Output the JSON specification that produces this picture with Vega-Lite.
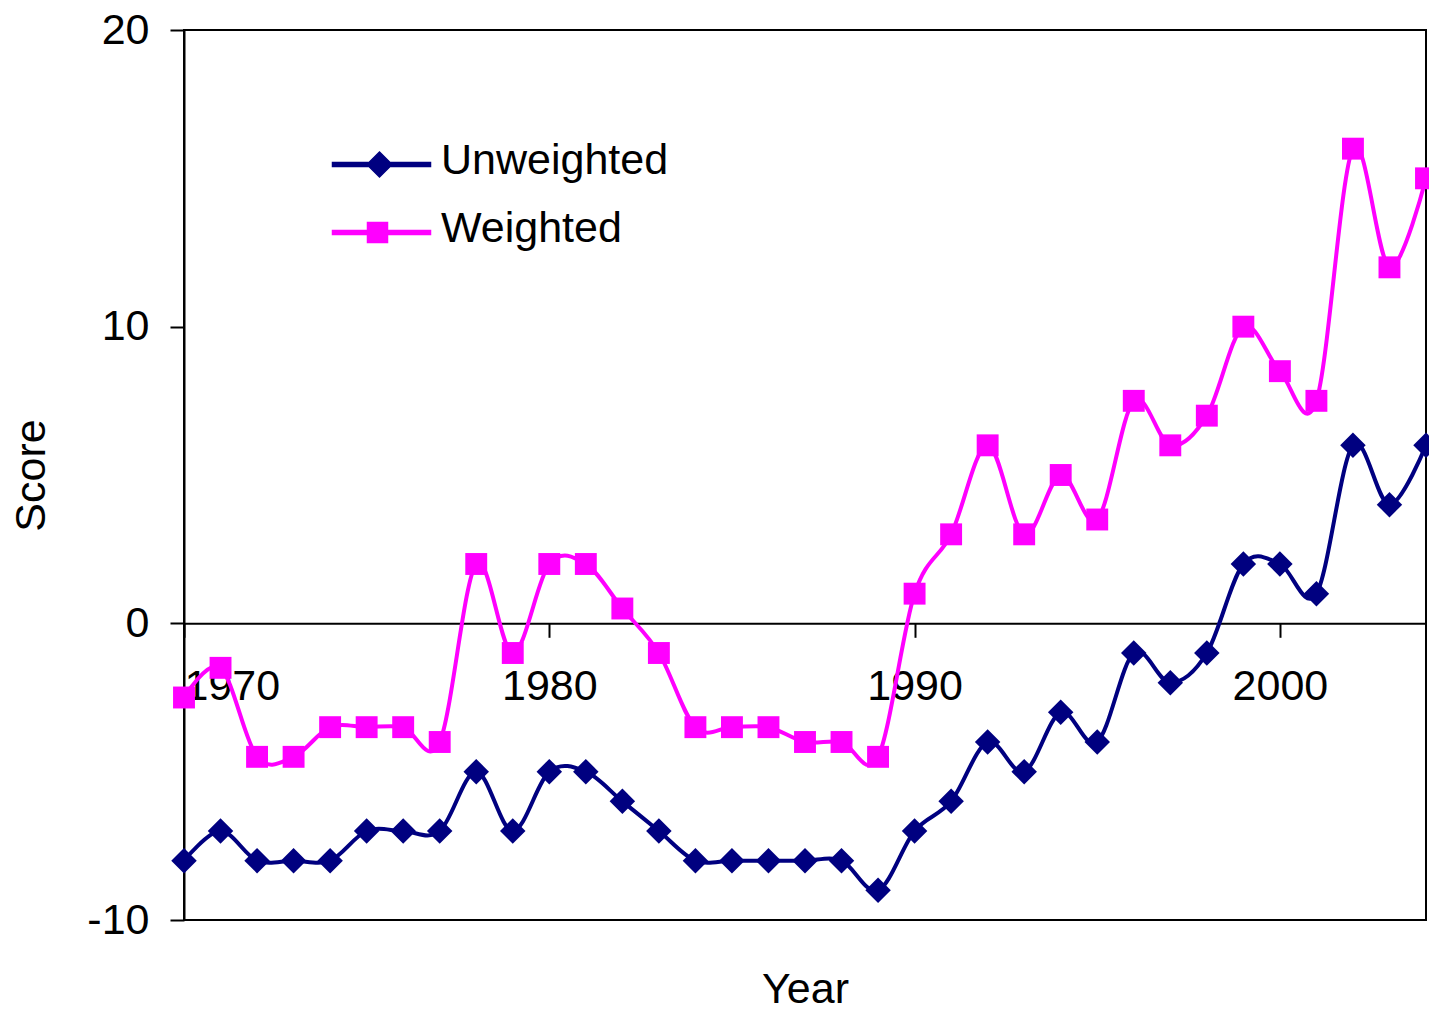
{
  "$schema": "https://vega.github.io/schema/vega-lite/v6.json",
  "autosize": {"type": "none"},
  "padding": {"left": 184, "top": 30, "right": 3, "bottom": 92},
  "width": 1242,
  "height": 890,
  "background": "white",
  "config": {
    "font": "Liberation Sans",
    "view": {"stroke": "black", "strokeWidth": 2},
    "axis": {
      "labelFont": "Liberation Sans",
      "titleFont": "Liberation Sans",
      "labelFontSize": 43,
      "titleFontSize": 43,
      "labelColor": "black",
      "titleColor": "black",
      "titleFontWeight": "normal",
      "domainColor": "black",
      "domainWidth": 2,
      "tickColor": "black",
      "tickWidth": 2,
      "tickSize": 14,
      "grid": false
    }
  },
  "data": {
    "values": [
      {"year": 1970, "series": "Unweighted", "score": -8},
      {"year": 1971, "series": "Unweighted", "score": -7},
      {"year": 1972, "series": "Unweighted", "score": -8},
      {"year": 1973, "series": "Unweighted", "score": -8},
      {"year": 1974, "series": "Unweighted", "score": -8},
      {"year": 1975, "series": "Unweighted", "score": -7},
      {"year": 1976, "series": "Unweighted", "score": -7},
      {"year": 1977, "series": "Unweighted", "score": -7},
      {"year": 1978, "series": "Unweighted", "score": -5},
      {"year": 1979, "series": "Unweighted", "score": -7},
      {"year": 1980, "series": "Unweighted", "score": -5},
      {"year": 1981, "series": "Unweighted", "score": -5},
      {"year": 1982, "series": "Unweighted", "score": -6},
      {"year": 1983, "series": "Unweighted", "score": -7},
      {"year": 1984, "series": "Unweighted", "score": -8},
      {"year": 1985, "series": "Unweighted", "score": -8},
      {"year": 1986, "series": "Unweighted", "score": -8},
      {"year": 1987, "series": "Unweighted", "score": -8},
      {"year": 1988, "series": "Unweighted", "score": -8},
      {"year": 1989, "series": "Unweighted", "score": -9},
      {"year": 1990, "series": "Unweighted", "score": -7},
      {"year": 1991, "series": "Unweighted", "score": -6},
      {"year": 1992, "series": "Unweighted", "score": -4},
      {"year": 1993, "series": "Unweighted", "score": -5},
      {"year": 1994, "series": "Unweighted", "score": -3},
      {"year": 1995, "series": "Unweighted", "score": -4},
      {"year": 1996, "series": "Unweighted", "score": -1},
      {"year": 1997, "series": "Unweighted", "score": -2},
      {"year": 1998, "series": "Unweighted", "score": -1},
      {"year": 1999, "series": "Unweighted", "score": 2},
      {"year": 2000, "series": "Unweighted", "score": 2},
      {"year": 2001, "series": "Unweighted", "score": 1},
      {"year": 2002, "series": "Unweighted", "score": 6},
      {"year": 2003, "series": "Unweighted", "score": 4},
      {"year": 2004, "series": "Unweighted", "score": 6},
      {"year": 1970, "series": "Weighted", "score": -2.5},
      {"year": 1971, "series": "Weighted", "score": -1.5},
      {"year": 1972, "series": "Weighted", "score": -4.5},
      {"year": 1973, "series": "Weighted", "score": -4.5},
      {"year": 1974, "series": "Weighted", "score": -3.5},
      {"year": 1975, "series": "Weighted", "score": -3.5},
      {"year": 1976, "series": "Weighted", "score": -3.5},
      {"year": 1977, "series": "Weighted", "score": -4},
      {"year": 1978, "series": "Weighted", "score": 2},
      {"year": 1979, "series": "Weighted", "score": -1},
      {"year": 1980, "series": "Weighted", "score": 2},
      {"year": 1981, "series": "Weighted", "score": 2},
      {"year": 1982, "series": "Weighted", "score": 0.5},
      {"year": 1983, "series": "Weighted", "score": -1},
      {"year": 1984, "series": "Weighted", "score": -3.5},
      {"year": 1985, "series": "Weighted", "score": -3.5},
      {"year": 1986, "series": "Weighted", "score": -3.5},
      {"year": 1987, "series": "Weighted", "score": -4},
      {"year": 1988, "series": "Weighted", "score": -4},
      {"year": 1989, "series": "Weighted", "score": -4.5},
      {"year": 1990, "series": "Weighted", "score": 1},
      {"year": 1991, "series": "Weighted", "score": 3},
      {"year": 1992, "series": "Weighted", "score": 6},
      {"year": 1993, "series": "Weighted", "score": 3},
      {"year": 1994, "series": "Weighted", "score": 5},
      {"year": 1995, "series": "Weighted", "score": 3.5},
      {"year": 1996, "series": "Weighted", "score": 7.5},
      {"year": 1997, "series": "Weighted", "score": 6},
      {"year": 1998, "series": "Weighted", "score": 7},
      {"year": 1999, "series": "Weighted", "score": 10},
      {"year": 2000, "series": "Weighted", "score": 8.5},
      {"year": 2001, "series": "Weighted", "score": 7.5},
      {"year": 2002, "series": "Weighted", "score": 16},
      {"year": 2003, "series": "Weighted", "score": 12},
      {"year": 2004, "series": "Weighted", "score": 15}
    ]
  },
  "encoding": {
    "x": {
      "field": "year",
      "type": "quantitative",
      "scale": {"domain": [1970, 2004], "nice": false, "zero": false},
      "axis": {
        "title": "Year",
        "values": [1970, 1980, 1990, 2000],
        "format": "d",
        "offset": -296.7,
        "labelPadding": 28,
        "titleY": 379,
        "titleBaseline": "alphabetic"
      }
    },
    "y": {
      "field": "score",
      "type": "quantitative",
      "scale": {"domain": [-10, 20], "nice": false, "zero": false},
      "axis": {
        "title": "Score",
        "values": [-10, 0, 10, 20],
        "labelExpr": "'' + datum.value",
        "labelPadding": 21,
        "titlePadding": 33
      }
    }
  },
  "layer": [
    {
      "mark": {"type": "line", "interpolate": "cardinal", "strokeWidth": 4},
      "encoding": {
        "color": {
          "field": "series",
          "type": "nominal",
          "scale": {"domain": ["Unweighted", "Weighted"], "range": ["#000080", "#FF00FF"]},
          "legend": {
            "title": null,
            "orient": "none",
            "legendX": 176,
            "legendY": 113,
            "padding": 0,
            "labelFont": "Liberation Sans",
            "labelFontSize": 43,
            "labelColor": "black",
            "labelLimit": 0,
            "labelOffset": 38,
            "symbolSize": 400,
            "rowPadding": 24,
            "encode": {
              "symbols": {
                "update": {
                  "shape": {"signal": "datum.value === 'Unweighted' ? 'M-4.9,-0.2L4.9,-0.2L4.9,0.2L-4.9,0.2ZM-0.2,-1.25L1.05,0L-0.2,1.25L-1.45,0Z' : 'M-4.9,-0.2L4.9,-0.2L4.9,0.2L-4.9,0.2ZM-1.4,-1.0L0.6,-1.0L0.6,1.0L-1.4,1.0Z'"},
                  "fill": {"signal": "datum.value === 'Unweighted' ? '#000080' : '#FF00FF'"},
                  "stroke": {"value": "transparent"},
                  "opacity": {"value": 1},
                  "fillOpacity": {"value": 1}
                }
              },
              "labels": {"update": {"dy": {"value": -4}}}
            }
          }
        }
      }
    },
    {
      "transform": [{"filter": "datum.series === 'Unweighted'"}],
      "mark": {"type": "point", "filled": true, "opacity": 1, "shape": "diamond", "size": 650, "color": "#000080"}
    },
    {
      "transform": [{"filter": "datum.series === 'Weighted'"}],
      "mark": {"type": "point", "filled": true, "opacity": 1, "shape": "square", "size": 480, "color": "#FF00FF"}
    }
  ]
}
